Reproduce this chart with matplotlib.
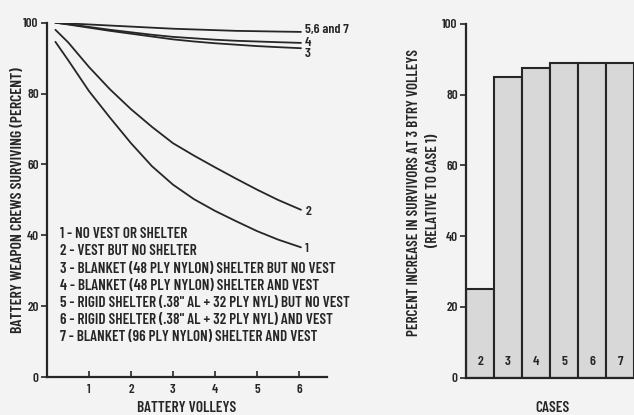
import matplotlib
matplotlib.use("Agg")
import matplotlib.pyplot as plt

# ---------------- data ----------------
volleys = [0.2, 0.5, 1.0, 1.5, 2.0, 2.5, 3.0, 3.5, 4.0, 4.5, 5.0, 5.5, 6.05]
case1 = [94.6, 89.5, 80.7, 73.2, 66.0, 59.5, 54.3, 50.2, 46.9, 44.0, 41.2, 38.8, 36.6]
case2 = [98.0, 94.5, 87.5, 81.2, 75.6, 70.6, 66.0, 62.5, 59.2, 56.0, 52.9, 50.0, 47.2]
case3 = [100.0, 99.5, 98.6, 97.7, 96.9, 96.1, 95.3, 94.7, 94.2, 93.8, 93.4, 93.1, 92.8]
case4 = [100.0, 99.6, 98.8, 98.0, 97.3, 96.6, 96.0, 95.6, 95.2, 94.9, 94.7, 94.5, 94.3]
case567 = [100.0, 99.8, 99.5, 99.2, 98.9, 98.6, 98.3, 98.1, 97.9, 97.7, 97.6, 97.5, 97.4]

curve_series = [case1, case2, case3, case4, case567]
curve_labels = ["1", "2", "3", "4", "5,6 and 7"]

legend_lines = [
    "1 - NO VEST OR SHELTER",
    "2 - VEST BUT NO SHELTER",
    "3 - BLANKET (48 PLY NYLON) SHELTER BUT NO VEST",
    "4 - BLANKET (48 PLY NYLON) SHELTER AND VEST",
    "5 - RIGID SHELTER (.38\" AL + 32 PLY NYL) BUT NO VEST",
    "6 - RIGID SHELTER (.38\" AL + 32 PLY NYL) AND VEST",
    "7 - BLANKET (96 PLY NYLON) SHELTER AND VEST",
]

cases = ["2", "3", "4", "5", "6", "7"]
increase = [25.0, 85.0, 87.6, 89.0, 89.0, 89.0]

x_ticks = [1, 2, 3, 4, 5, 6]
y_ticks = [0, 20, 40, 60, 80, 100]

# ---------------- fonts ----------------
plt.rcParams["font.family"] = ["Barlow Condensed", "Asap Condensed", "DejaVu Sans"]
plt.rcParams["font.weight"] = "semibold"

INK = "#262626"
BG = "#f3f3f3"

W, H = 634, 415
fig = plt.figure(figsize=(W / 100, H / 100), dpi=100, facecolor=BG)

def fx(px):
    return px / W

def fy(py):
    return 1 - py / H

# ---------------- left chart ----------------
ax = fig.add_axes([fx(47), (H - 377) / H, 280 / W, 354.3 / H])
ax.set_facecolor("none")
for s in ["top", "right"]:
    ax.spines[s].set_visible(False)
for s in ["left", "bottom"]:
    ax.spines[s].set_linewidth(1.6)
    ax.spines[s].set_color(INK)
ax.set_xlim(0, 6.67)
ax.set_ylim(0, 100)
ax.set_xticks(x_ticks)
ax.set_yticks(y_ticks)
ax.tick_params(axis="x", direction="in", length=4, width=1.2, colors=INK,
               labelsize=9.5, pad=5)
ax.tick_params(axis="y", direction="out", length=4, width=1.2, colors=INK,
               labelsize=9.5, pad=2)

for ys in curve_series:
    ax.plot(volleys, ys, color=INK, lw=1.3, solid_capstyle="round")

label_offsets = {"1": -0.6, "2": -0.6, "3": -1.6, "4": 0.0, "5,6 and 7": 0.6}
for ys, lab in zip(curve_series, curve_labels):
    ax.annotate(lab, xy=(volleys[-1], ys[-1]),
                xytext=(volleys[-1] + 0.1, ys[-1] + label_offsets[lab]),
                fontsize=10, color=INK, va="center", ha="left",
                annotation_clip=False)

for i, t in enumerate(legend_lines):
    ax.text(0.3, 40.3 - i * 4.85, t, fontsize=10.9, color=INK,
            va="center", ha="left")

fig.text(fx(187), fy(408), "BATTERY VOLLEYS", fontsize=11, color=INK,
         ha="center", va="center")
fig.text(fx(18), fy(200), "BATTERY WEAPON CREWS SURVIVING (PERCENT)",
         fontsize=11.3, color=INK, rotation=90, ha="center", va="center")

# ---------------- right chart ----------------
bx = fig.add_axes([fx(466), (H - 377.5) / H, 182 / W, 353.5 / H])
bx.set_facecolor("none")
for s in ["top", "right"]:
    bx.spines[s].set_visible(False)
for s in ["left", "bottom"]:
    bx.spines[s].set_linewidth(1.6)
    bx.spines[s].set_color(INK)
pos = list(range(len(cases)))
bx.bar(pos, increase, width=1.0, color="#d8d8d8", edgecolor=INK,
       linewidth=1.5, zorder=2)
for p, c in zip(pos, cases):
    bx.text(p, 4.3, c, fontsize=10, color=INK, ha="center", va="center",
            zorder=3)
bx.set_xlim(-0.5, 6.0)
bx.set_ylim(0, 100)
bx.set_yticks(y_ticks)
bx.set_xticks([])
bx.tick_params(axis="y", direction="out", length=4, width=1.2, colors=INK,
               labelsize=9.5, pad=2)

fig.text(fx(553), fy(408), "CASES", fontsize=11, color=INK,
         ha="center", va="center")
fig.text(fx(414), fy(192),
         "PERCENT INCREASE IN SURVIVORS AT 3 BTRY VOLLEYS",
         rotation=90, fontsize=10.9, color=INK, ha="center", va="center")
fig.text(fx(433), fy(190), "(RELATIVE TO CASE 1)",
         rotation=90, fontsize=10.9, color=INK, ha="center", va="center")

fig.savefig("out.png", dpi=100, facecolor=BG)
